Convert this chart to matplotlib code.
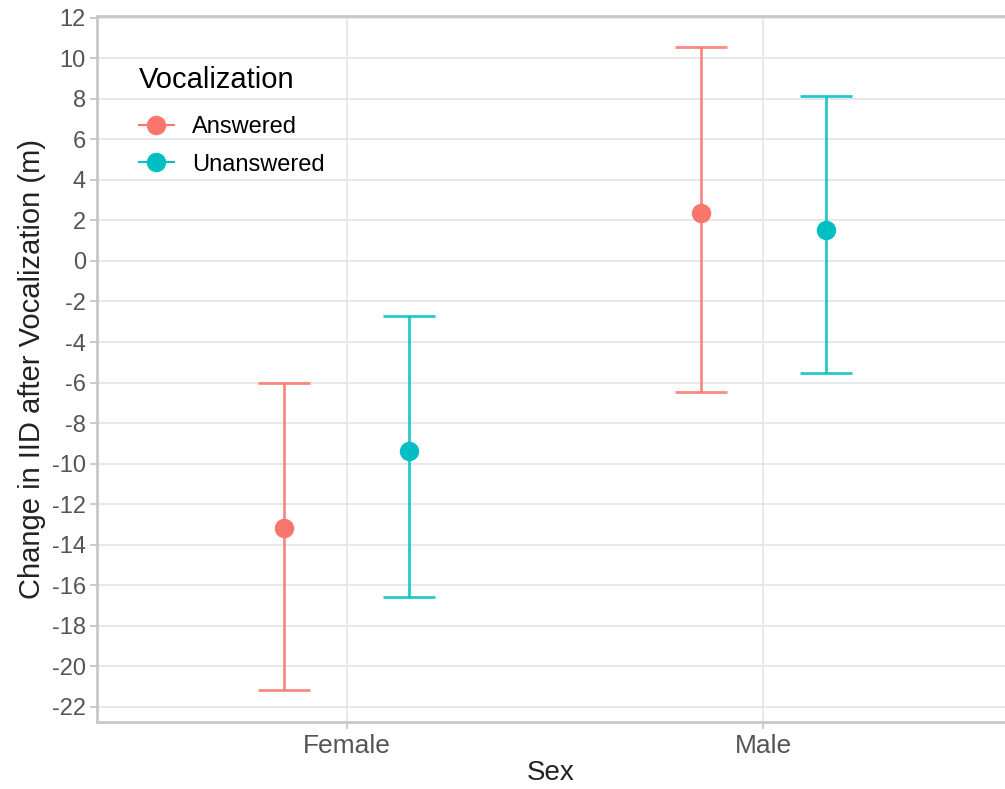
import numpy as np
import matplotlib.pyplot as plt
from matplotlib.lines import Line2D

plt.rcParams['font.family'] = ['Liberation Sans', 'DejaVu Sans']
plt.rcParams['axes.unicode_minus'] = False

# data
sexes = ['Female', 'Male']
groups = ['Answered', 'Unanswered']
colors = ['#F8766D', '#00BFC4']
means = {'Answered': [-13.2, 2.35], 'Unanswered': [-9.4, 1.55]}
upper = {'Answered': [-6.0, 10.55], 'Unanswered': [-2.7, 8.15]}
lower = {'Answered': [-21.15, -6.45], 'Unanswered': [-16.6, -5.55]}

fig = plt.figure(figsize=(10.05, 7.89), dpi=100)
ax = fig.add_axes([0.0965, 0.085, 0.9035, 0.895])

x = np.arange(1, len(sexes) + 1)
offsets = [-0.15, 0.15]
for g, c, off in zip(groups, colors, offsets):
    m = np.array(means[g])
    lo = m - np.array(lower[g])
    hi = np.array(upper[g]) - m
    ax.errorbar(x + off, m, yerr=[lo, hi], fmt='none', ecolor=c, elinewidth=2,
                capsize=18.7, capthick=2, alpha=0.85, zorder=3)
    ax.plot(x + off, m, 'o', color=c, markersize=13, zorder=4)

ax.set_xlim(0.4, 2.58)
ax.set_ylim(-22.75, 12.1)
ax.set_xticks(x)
ax.set_xticklabels(sexes)
ax.set_yticks(np.arange(-22, 13, 2))

ax.grid(which='major', color='#e6e6e6', linewidth=1.3)
ax.set_axisbelow(True)
for s in ['left', 'bottom', 'top']:
    ax.spines[s].set_color('#c8c8c8')
    ax.spines[s].set_linewidth(2)
ax.spines['right'].set_visible(False)
ax.tick_params(axis='both', which='major', colors='#c8c8c8', length=5, width=1.3,
               labelcolor='#555555', labelsize=17, pad=3)
ax.tick_params(axis='x', labelsize=19, pad=4)

ax.set_xlabel('Sex', fontsize=20, color='#222222', labelpad=1)
ax.set_ylabel('Change in IID after Vocalization (m)', fontsize=21, color='#222222', labelpad=4)

handles = [Line2D([0], [0], color=c, marker='o', markersize=13, linewidth=1.5)
           for c in colors]
leg = ax.legend(handles, groups, title='Vocalization', loc='upper left',
                bbox_to_anchor=(0.033, 0.946), frameon=False, fontsize=17,
                title_fontsize=21, handlelength=1.5, labelspacing=0.66,
                handletextpad=0.75, borderpad=0)
leg._legend_box.align = 'left'
leg._legend_box.sep = 16

fig.savefig('out.png', dpi=100)
